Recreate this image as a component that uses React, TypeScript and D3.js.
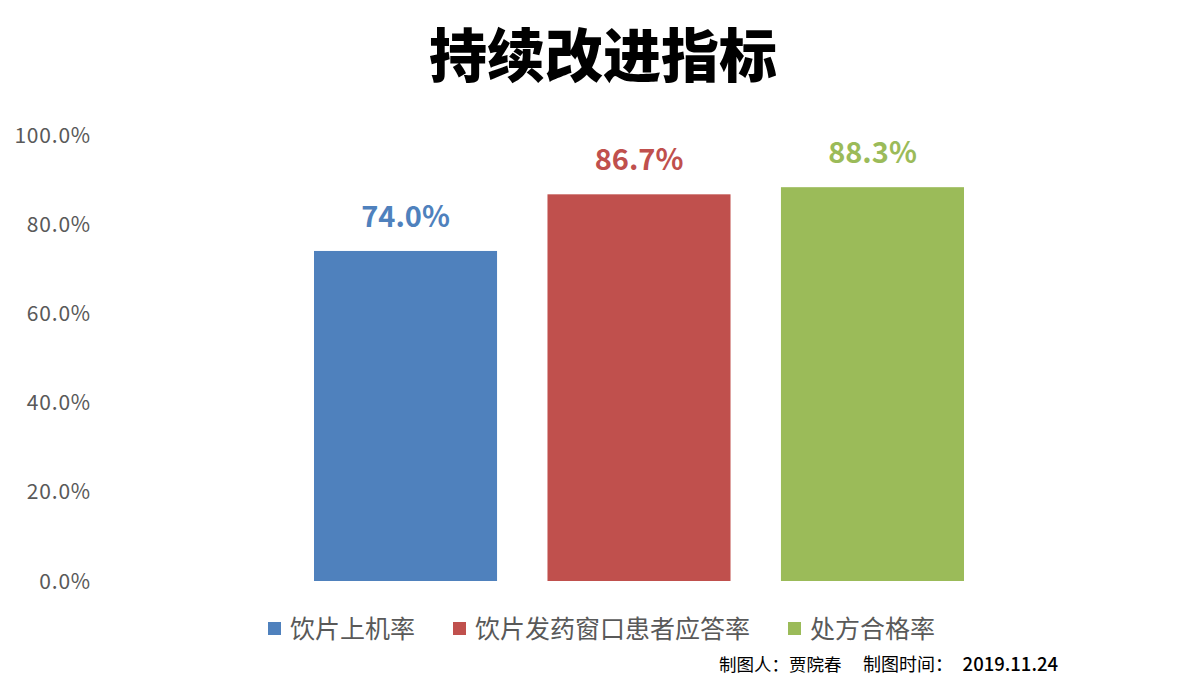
import React from "react";
import * as d3 from "d3";

const title = "持续改进指标";
const seriesNames = ["饮片上机率", "饮片发药窗口患者应答率", "处方合格率"];
const seriesValues = [0.74, 0.867, 0.883];
const seriesColors = ["#4F81BD", "#C0504D", "#9BBB59"];
const yTicks = [0, 0.2, 0.4, 0.6, 0.8, 1.0];
const footerAuthor = "制图人：贾院春";
const footerDateLabel = "制图时间：";
const footerDate = "2019.11.24";

const W = 1189;
const H = 688;
const FONT = "'Noto Sans CJK SC', 'Noto Sans', sans-serif";

export default function App() {
  const y = d3.scaleLinear().domain([0, 1]).range([581, 135]);
  const x = d3
    .scaleBand<string>()
    .domain(seriesNames)
    .range([314, 964])
    .paddingInner(0.216)
    .paddingOuter(0);
  const fmt = d3.format(".1%");

  const legendX = [268, 453, 788];

  return (
    <svg
      width={W}
      height={H}
      style={{ position: "absolute", left: 0, top: 0, background: "#fff" }}
    >
      <text
        x={603}
        y={77}
        textAnchor="middle"
        fontFamily={FONT}
        fontWeight={900}
        fontSize={58}
        fill="#000"
      >
        {title}
      </text>
      {yTicks.map((t) => (
        <text
          key={t}
          x={91}
          y={y(t)}
          dy="0.36em"
          textAnchor="end"
          fontFamily={FONT}
          fontSize={21}
          letterSpacing={0.8}
          fill="#595959"
        >
          {fmt(t)}
        </text>
      ))}
      {seriesNames.map((s, i) => (
        <g key={s}>
          <rect
            x={x(s)}
            y={y(seriesValues[i])}
            width={x.bandwidth()}
            height={y(0) - y(seriesValues[i])}
            fill={seriesColors[i]}
          />
          <text
            x={(x(s) as number) + x.bandwidth() / 2}
            y={y(seriesValues[i]) - 24}
            textAnchor="middle"
            fontFamily={FONT}
            fontWeight={700}
            fontSize={29}
            fill={seriesColors[i]}
          >
            {fmt(seriesValues[i])}
          </text>
        </g>
      ))}
      {seriesNames.map((s, i) => (
        <g key={"lg" + s} transform={`translate(${legendX[i]},629)`}>
          <rect x={0} y={-7} width={13} height={13} fill={seriesColors[i]} />
          <text
            x={22}
            y={0}
            dy="0.36em"
            fontFamily={FONT}
            fontSize={25}
            fill="#595959"
          >
            {s}
          </text>
        </g>
      ))}
      <text x={719} y={671} fontFamily={FONT} fontSize={17.5} fill="#000">
        {footerAuthor}
      </text>
      <text x={863} y={671} fontFamily={FONT} fontSize={18} fill="#000">
        {footerDateLabel}
      </text>
      <text
        x={1058}
        y={671}
        textAnchor="end"
        fontFamily={FONT}
        fontWeight={500}
        fontSize={18.5}
        fill="#000"
      >
        {footerDate}
      </text>
    </svg>
  );
}
